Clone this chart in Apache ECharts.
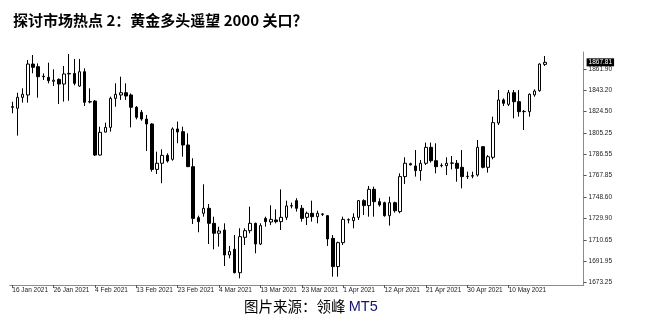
<!DOCTYPE html>
<html>
<head>
<meta charset="utf-8">
<script src="https://cdn.jsdelivr.net/npm/echarts@6/dist/echarts.min.js"></script>
<style>html,body{margin:0;padding:0;background:#fff}#c{width:645px;height:324px}</style>
</head>
<body>
<div id="c"></div>
<script>
var opens = [1828.5,1827.1,1836.8,1838.9,1866.3,1864.0,1855.0,1854.5,1851.0,1852.7,1848.6,1857.5,1858.0,1846.8,1859.5,1833.0,1833.5,1785.7,1806.0,1810.2,
1835.9,1838.9,1840.9,1838.9,1828.0,1823.5,1817.6,1813.2,1773.0,1778.4,1785.4,1781.9,1808.8,1806.4,1794.6,1775.4,1730.2,1734.1,1738.5,1725.2,
1716.4,1719.3,1697.2,1702.2,1681.5,1712.8,1718.7,1725.2,1706.9,1729.6,1726.4,1728.2,1726.7,1730.5,1740.6,1745.3,1738.5,1730.5,1734.1,1731.1,
1733.5,1732.0,1711.9,1686.9,1708.1,1728.2,1727.6,1730.5,1745.3,1740.9,1755.3,1744.4,1743.5,1732.0,1743.5,1735.6,1766.6,1778.0,1776.0,1771.9,
1778.4,1792.5,1780.7,1776.3,1776.3,1778.4,1778.4,1774.8,1766.6,1767.0,1768.0,1793.1,1774.8,1783.7,1814.1,1834.5,1830.6,1840.9,1833.0,1824.1,
1824.1,1839.0,1842.7,1866.0];
var closes = [1828.0,1836.8,1839.5,1866.3,1863.4,1855.1,1855.5,1851.6,1852.0,1848.6,1857.5,1858.0,1849.2,1859.5,1832.4,1832.7,1785.7,1805.8,1810.2,1835.9,
1839.5,1840.9,1838.0,1828.0,1819.1,1817.6,1813.2,1773.0,1778.4,1785.4,1780.4,1808.8,1806.1,1794.6,1775.4,1729.6,1726.7,1738.5,1725.2,1716.4,
1718.4,1697.2,1700.2,1681.5,1713.4,1718.7,1725.2,1706.9,1723.2,1726.7,1728.7,1726.7,1730.5,1740.6,1740.9,1738.5,1729.6,1734.1,1731.1,1734.1,
1733.2,1711.4,1686.9,1708.1,1728.7,1728.5,1730.5,1745.3,1740.9,1755.3,1744.4,1741.5,1732.0,1743.5,1736.4,1766.6,1778.4,1777.0,1771.9,1778.4,
1792.5,1780.7,1775.4,1776.6,1778.4,1778.7,1773.9,1766.6,1766.9,1767.5,1792.5,1774.8,1784.2,1814.4,1834.5,1831.5,1840.9,1832.9,1824.1,1824.4,
1839.5,1842.4,1866.3,1867.81];
var lows = [1822.7,1802.9,1832.1,1832.1,1858.1,1836.5,1852.2,1849.2,1846.8,1830.9,1833.0,1833.8,1847.4,1846.2,1829.1,1831.5,1784.8,1785.2,1805.8,1806.4,
1828.5,1834.5,1834.5,1810.2,1817.3,1816.1,1789.3,1771.0,1768.9,1760.7,1779.0,1780.7,1796.1,1784.2,1775.4,1724.6,1717.3,1731.1,1706.9,1702.2,
1704.6,1687.4,1694.2,1680.9,1676.5,1706.0,1716.4,1698.7,1706.0,1722.3,1723.7,1725.2,1719.3,1728.2,1738.5,1735.6,1726.7,1723.7,1726.7,1725.2,
1731.7,1705.2,1678.0,1678.0,1706.0,1725.2,1720.8,1728.2,1732.6,1731.1,1731.1,1740.0,1731.1,1723.2,1734.7,1734.1,1760.0,1776.6,1766.6,1763.0,
1776.9,1779.0,1769.5,1774.8,1768.0,1773.0,1762.1,1756.2,1764.5,1765.1,1766.6,1773.9,1770.1,1781.9,1812.3,1829.1,1829.1,1818.2,1819.7,1807.9,
1819.7,1837.4,1841.8,1864.6];
var highs = [1832.9,1840.9,1844.8,1869.9,1874.3,1866.9,1858.0,1867.5,1861.6,1853.6,1864.6,1875.2,1870.8,1870.8,1862.5,1844.8,1834.4,1810.8,1814.4,1837.4,
1849.2,1855.1,1849.2,1840.3,1829.1,1825.6,1821.2,1813.8,1788.7,1790.8,1787.2,1810.2,1815.3,1810.8,1804.9,1782.8,1732.0,1759.8,1742.3,1731.1,
1722.2,1725.2,1705.2,1714.9,1720.8,1720.8,1740.0,1725.8,1725.2,1731.1,1741.2,1737.6,1755.3,1745.3,1743.5,1747.4,1741.5,1735.6,1745.3,1736.4,
1734.1,1732.6,1714.9,1709.0,1731.1,1729.6,1734.1,1745.9,1746.5,1758.3,1757.7,1747.4,1744.4,1748.8,1744.4,1769.5,1783.7,1778.9,1790.1,1781.3,
1796.7,1796.7,1796.1,1778.4,1783.7,1784.8,1781.3,1790.1,1771.0,1771.0,1799.0,1793.7,1785.7,1819.7,1843.3,1835.9,1843.3,1843.3,1843.3,1825.6,
1840.3,1843.9,1866.9,1873.4];
var dateLabels = ['16 Jan 2021','26 Jan 2021','4 Feb 2021','13 Feb 2021','23 Feb 2021','4 Mar 2021','13 Mar 2021','23 Mar 2021','1 Apr 2021','12 Apr 2021','21 Apr 2021','30 Apr 2021','10 May 2021'];
var priceTicks = [1673.25,1691.95,1710.65,1729.90,1748.60,1767.85,1786.55,1805.25,1824.50,1843.20,1861.90];
var barsPerLabel = 8;
var emptyBarsRight = 7;

var n = opens.length;
var cats = [];
for (var i = 0; i < n + emptyBarsRight; i++) cats.push(String(i));
var candles = [];
for (var j = 0; j < n; j++) candles.push([opens[j], closes[j], lows[j], highs[j]]);
var lastPrice = closes[n - 1];

var chart = echarts.init(document.getElementById('c'), null, {renderer: 'canvas'});
chart.setOption({
  animation: false,
  backgroundColor: '#fff',
  title: [{
    text: '探讨市场热点 2：黄金多头遥望 2000 关口？',
    left: 8, top: 8,
    textStyle: {fontSize: 15, fontWeight: 'bold', color: '#000', fontFamily: 'Noto Sans CJK SC'}
  }, {
    text: '图片来源：领峰 {b|MT5}',
    left: 239, top: 294,
    textStyle: {fontSize: 14.5, fontWeight: 'normal', color: '#000', fontFamily: 'Noto Sans CJK SC',
      rich: {b: {fontSize: 14.5, color: '#14146e', fontFamily: 'Liberation Sans'}}}
  }],
  grid: {left: 9.7, right: 61.4, top: 52, bottom: 39, containLabel: false},
  xAxis: {
    type: 'category',
    data: cats,
    boundaryGap: true,
    axisLine: {show: true, lineStyle: {color: '#8c8c8c', width: 1}},
    axisTick: {show: true, alignWithLabel: true, length: 3, lineStyle: {color: '#555'},
      interval: function (idx) { return idx % barsPerLabel === 0 && idx / barsPerLabel < dateLabels.length; }},
    axisLabel: {
      show: true, margin: 2, fontSize: 6.5, color: '#222', fontFamily: 'Liberation Sans', align: 'left',
      interval: function (idx) { return idx % barsPerLabel === 0 && idx / barsPerLabel < dateLabels.length; },
      formatter: function (v, idx) { return dateLabels[idx / barsPerLabel] || ''; }
    },
    splitLine: {show: false}
  },
  yAxis: {
    type: 'value',
    position: 'right',
    min: 1670.59, max: 1876.96,
    scale: true,
    axisLine: {show: true, lineStyle: {color: '#8c8c8c', width: 1}},
    axisTick: {show: true, length: 3, lineStyle: {color: '#555'}, customValues: priceTicks},
    axisLabel: {show: true, margin: 5, fontSize: 6.5, color: '#222', fontFamily: 'Liberation Sans',
      customValues: priceTicks, formatter: function (v) { return v.toFixed(2); }},
    splitLine: {show: false}
  },
  series: [{
    type: 'candlestick',
    data: candles,
    barWidth: 3,
    itemStyle: {color: '#ffffff', color0: '#000000', borderColor: '#000000', borderColor0: '#000000', borderWidth: 1},
    markLine: {
      silent: true,
      symbol: ['none', 'none'],
      lineStyle: {color: 'rgba(0,0,0,0)', width: 0, type: 'solid'},
      label: {
        show: true, position: 'end', distance: 3,
        formatter: function (p) { return p.value.toFixed(2); },
        backgroundColor: '#000', color: '#fff', fontSize: 6.5, fontFamily: 'Liberation Sans', padding: [1, 2, 0, 2]
      },
      data: [{yAxis: lastPrice}]
    }
  }]
});
</script>
</body>
</html>
